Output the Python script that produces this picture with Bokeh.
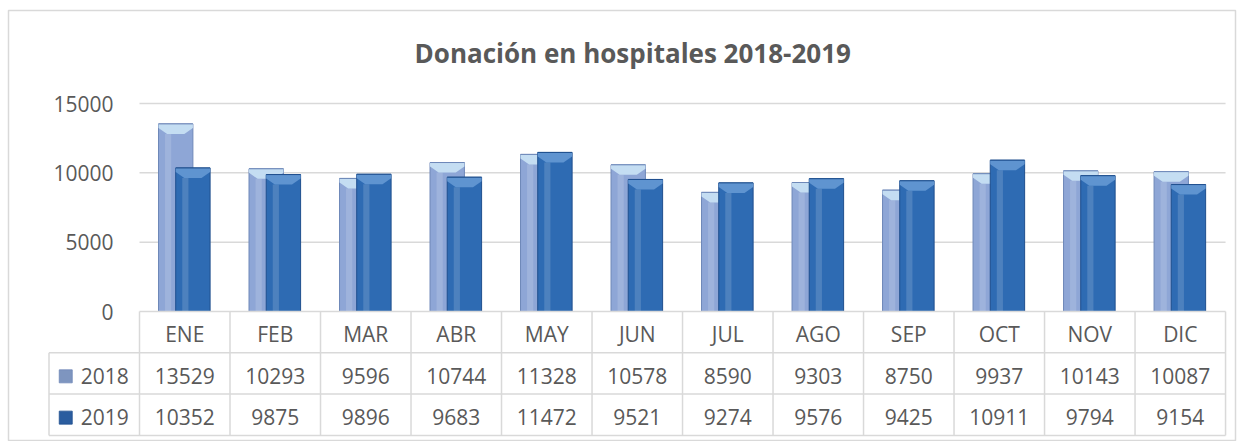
from bokeh.plotting import figure
from bokeh.models import Range1d, LinearAxis, FixedTicker, Label, ColumnDataSource
from bokeh.core.properties import value
from bokeh.embed import file_html
from bokeh.resources import INLINE

title = "Donación en hospitales 2018-2019"
months = ["ENE", "FEB", "MAR", "ABR", "MAY", "JUN", "JUL", "AGO", "SEP", "OCT", "NOV", "DIC"]
series = ["2018", "2019"]
v2018 = [13529, 10293, 9596, 10744, 11328, 10578, 8590, 9303, 8750, 9937, 10143, 10087]
v2019 = [10352, 9875, 9896, 9683, 11472, 9521, 9274, 9576, 9425, 10911, 9794, 9154]
yticks = [0, 5000, 10000, 15000]

FONT = "Open Sans"
TXT = "#595959"
GRID = "#D9D9D9"
body_col = {"2018": "#8EA6D6", "2019": "#2E6BB3"}
edge_col = {"2018": "#6E88B8", "2019": "#1F4F8E"}
cap_col = {"2018": "#C4DDF2", "2019": "#5F94D0"}
swatch_col = {"2018": "#7E95BF", "2019": "#2B5D9F"}

n = len(months)
PX_PER_UNIT_Y = 208.0 / 15000.0  # pixel per data unit (value axis)

p = figure(width=1243, height=441,
           x_range=Range1d(-1.4475, 12.11), y_range=Range1d(-9375, 21707),
           output_backend="svg", toolbar_location=None,
           x_axis_location=None, y_axis_location=None,
           min_border_left=8, min_border_right=8, min_border_top=10, min_border_bottom=0)
p.extra_y_ranges = {"tbl": Range1d(-3.148, 7.288)}
p.grid.visible = False
p.outline_line_color = GRID
p.outline_line_width = 1.5
p.background_fill_color = "white"
p.border_fill_color = "white"

# gridlines (value axis), drawn across the plot area only
grid_ticks = [t for t in yticks if t > 0]
p.segment(x0=[0] * len(grid_ticks), x1=[n] * len(grid_ticks), y0=grid_ticks, y1=grid_ticks,
          line_color=GRID, line_width=1.5)

# y axis at x = 0
yax = LinearAxis(ticker=FixedTicker(ticks=yticks), fixed_location=0)
yax.axis_line_color = None
yax.major_tick_line_color = None
yax.minor_tick_line_color = None
yax.major_tick_in = 0
yax.major_tick_out = 0
yax.major_label_standoff = 26
yax.major_label_text_font = FONT
yax.major_label_text_font_size = "21px"
yax.major_label_text_color = TXT
p.add_layout(yax, "left")

# bars
offsets = {"2018": -0.10, "2019": 0.09}
bw = 0.38
cap_h = 10 / PX_PER_UNIT_Y
cap_s = 4 / PX_PER_UNIT_Y
for s, vals in (("2018", v2018), ("2019", v2019)):
    xs = [i + 0.5 + offsets[s] for i in range(n)]
    src = ColumnDataSource(dict(x=xs, top=vals))
    p.vbar(x="x", top="top", bottom=0, width=bw, source=src,
           fill_color=body_col[s], line_color=edge_col[s], line_width=1)
    # inner highlight strip
    p.vbar(x=[x - bw * 0.22 for x in xs], top=[v - cap_h for v in vals], bottom=0, width=bw * 0.18,
           fill_color="white", fill_alpha=0.15, line_color=None)
    # bevel cap
    pxs, pys = [], []
    for x, v in zip(xs, vals):
        l, r = x - bw / 2, x + bw / 2
        pxs.append([l, r, r, x + bw * 0.25, x - bw * 0.25, l])
        pys.append([v, v, v - cap_s, v - cap_h, v - cap_h, v - cap_s])
    p.patches(xs=pxs, ys=pys, fill_color=cap_col[s], line_color=None)
    p.segment(x0=[x - bw / 2 for x in xs], x1=[x + bw / 2 for x in xs], y0=vals, y1=vals,
              line_color=edge_col[s], line_width=1)

# data table
rows = 3
hx0 = list(range(0, n + 1))
p.segment(x0=[0], x1=[n], y0=[0], y1=[0], y_range_name="tbl", line_color=GRID, line_width=1.5)
p.segment(x0=[-1] * rows, x1=[n] * rows, y0=[-1, -2, -3], y1=[-1, -2, -3],
          y_range_name="tbl", line_color=GRID, line_width=1.5)
p.segment(x0=hx0, x1=hx0, y0=[0] * len(hx0), y1=[-3] * len(hx0),
          y_range_name="tbl", line_color=GRID, line_width=1.5)
p.segment(x0=[-1], x1=[-1], y0=[-1], y1=[-3], y_range_name="tbl", line_color=GRID, line_width=1.5)

centers = [i + 0.5 for i in range(n)]
p.text(x=centers, y=[-0.55] * n, text=months, y_range_name="tbl",
       text_align="center", text_baseline="middle",
       text_font=value(FONT), text_font_size="21px", text_color=TXT)
for r, (s, vals) in enumerate((("2018", v2018), ("2019", v2019))):
    yy = -1.55 - r
    p.text(x=centers, y=[yy] * n, text=[str(v) for v in vals], y_range_name="tbl",
           text_align="center", text_baseline="middle",
           text_font=value(FONT), text_font_size="21px", text_color=TXT)
    p.rect(x=[-0.815], y=[yy - 0.02], width=13, height=13, width_units="screen", height_units="screen",
           y_range_name="tbl", fill_color=swatch_col[s], line_color=edge_col[s], line_width=0.8)
    p.text(x=[-0.65], y=[yy], text=[s], y_range_name="tbl",
           text_align="left", text_baseline="middle",
           text_font=value(FONT), text_font_size="21px", text_color=TXT)

# title
p.add_layout(Label(x=5.45, y=18677, text=title, text_align="center", text_baseline="middle",
                   text_font=FONT, text_font_size="26px", text_font_style="bold", text_color=TXT))

open("out.html", "w").write(file_html(p, INLINE))
